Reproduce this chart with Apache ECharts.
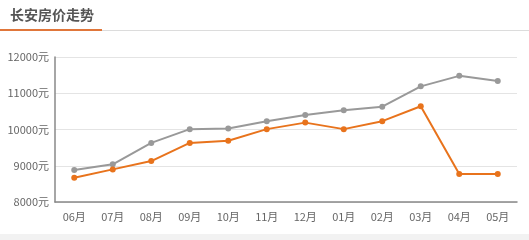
<!DOCTYPE html>
<html><head><meta charset="utf-8">
<script src="https://cdn.jsdelivr.net/npm/echarts@6/dist/echarts.min.js"></script>
<style>html,body{margin:0;padding:0;background:#fff}#c{width:529px;height:240px}</style>
</head><body><div id="c"></div>
<script>
const titleText = '长安房价走势';
const months = ['06月','07月','08月','09月','10月','11月','12月','01月','02月','03月','04月','05月'];
const grayValues = [8880, 9040, 9630, 10010, 10030, 10230, 10400, 10530, 10630, 11190, 11480, 11340];
const orangeValues = [8670, 8900, 9130, 9630, 9690, 10010, 10190, 10010, 10230, 10640, 8770, 8770];
const yMin = 8000, yMax = 12000, yStep = 1000;

const chart = echarts.init(document.getElementById('c'), null, {renderer: 'canvas'});
const font = '"Noto Sans CJK SC", sans-serif';
chart.setOption({
  animation: false,
  backgroundColor: '#fff',
  graphic: [
    {type: 'text', left: 10, top: 8, style: {text: titleText, font: 'bold 14px ' + font, fill: '#555'}},
    {type: 'rect', shape: {x: 0, y: 30, width: 529, height: 1}, style: {fill: '#dcdcdc'}},
    {type: 'rect', shape: {x: 0, y: 29, width: 102, height: 2}, style: {fill: '#e0763a'}},
    {type: 'rect', shape: {x: 0, y: 234, width: 529, height: 6}, style: {fill: '#f2f2f2'}}
  ],
  grid: {left: 55, right: 12, top: 57, bottom: 38, containLabel: false},
  xAxis: {
    type: 'category', data: months, boundaryGap: true,
    axisLine: {lineStyle: {color: '#888', width: 1.5}},
    axisTick: {show: false},
    axisLabel: {color: '#666', fontSize: 11, fontFamily: font, margin: 9}
  },
  yAxis: {
    type: 'value', min: yMin, max: yMax, interval: yStep,
    axisLine: {show: true, lineStyle: {color: '#888', width: 1.5}},
    axisTick: {show: false},
    splitLine: {lineStyle: {color: '#e4e4e4'}},
    axisLabel: {color: '#666', fontSize: 11, fontFamily: font, margin: 6, formatter: function (v) { return String(v) + '元'; }}
  },
  series: [
    {type: 'line', data: grayValues, symbol: 'circle', symbolSize: 6,
     lineStyle: {color: '#999', width: 2}, itemStyle: {color: '#999'}},
    {type: 'line', data: orangeValues, symbol: 'circle', symbolSize: 6,
     lineStyle: {color: '#e8731c', width: 2}, itemStyle: {color: '#e8731c'}}
  ]
});
</script></body></html>
